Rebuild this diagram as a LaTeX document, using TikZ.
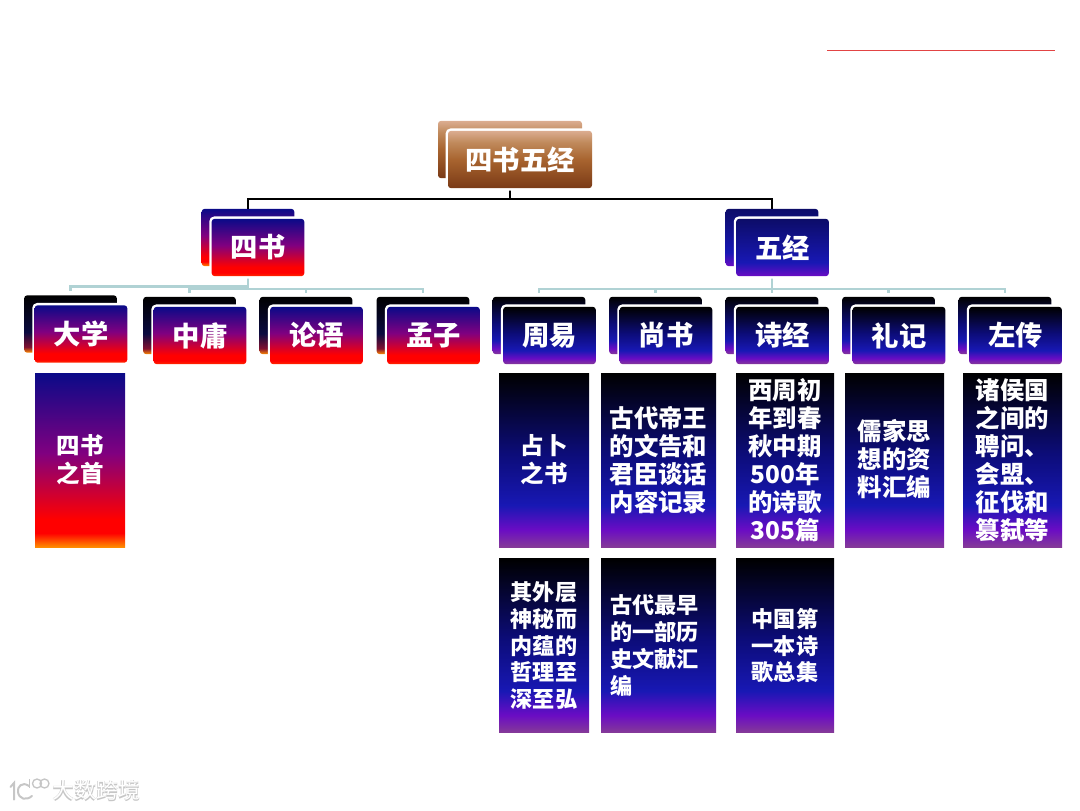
\documentclass[tikz,border=0pt]{standalone}
\usepackage{fontspec}
\setmainfont{Noto Sans CJK SC}
\definecolor{brB}{HTML}{7A3A16}
\definecolor{brM}{HTML}{A8642F}
\definecolor{brM2}{HTML}{C08A5C}
\definecolor{brT}{HTML}{DBAD90}
\definecolor{orG}{HTML}{FF8C00}
\definecolor{reO}{HTML}{FF2A00}
\definecolor{reD}{HTML}{FF0000}
\definecolor{puR}{HTML}{800080}
\definecolor{naV}{HTML}{0A0A88}
\definecolor{drK}{HTML}{801030}
\definecolor{bkN}{HTML}{0A0A40}
\definecolor{maV}{HTML}{853A98}
\definecolor{vlT}{HTML}{6A0CC4}
\definecolor{blU}{HTML}{1818B4}
\definecolor{nvD}{HTML}{0C0C78}
\definecolor{nvE}{HTML}{0C0C68}
\definecolor{tealline}{HTML}{B0D2D4}
\definecolor{redline}{HTML}{E24444}
\definecolor{wmgray}{HTML}{C6C6C6}
\pgfdeclareverticalshading{brownfill}{100bp}{color(0bp)=(brB); color(25bp)=(brB); color(50bp)=(brM); color(65bp)=(brM2); color(75bp)=(brT); color(100bp)=(brT)}
\pgfdeclareverticalshading{sunsetfill}{100bp}{color(0bp)=(orG); color(25bp)=(orG); color(29bp)=(reD); color(33bp)=(reD); color(52bp)=(puR); color(75bp)=(naV); color(100bp)=(naV)}
\pgfdeclareverticalshading{sunsetfront}{100bp}{color(0bp)=(reO); color(25bp)=(reO); color(28bp)=(reD); color(33bp)=(reD); color(52bp)=(puR); color(75bp)=(naV); color(100bp)=(naV)}
\pgfdeclareverticalshading{sunsetback}{100bp}{color(0bp)=(orG); color(25bp)=(orG); color(30bp)=(drK); color(43bp)=(bkN); color(75bp)=(black); color(100bp)=(black)}
\pgfdeclareverticalshading{midnightfill}{100bp}{color(0bp)=(maV); color(25bp)=(maV); color(30bp)=(vlT); color(37bp)=(blU); color(52bp)=(nvD); color(75bp)=(black); color(100bp)=(black)}
\pgfdeclareverticalshading{midnightnavy}{100bp}{color(0bp)=(vlT); color(25bp)=(vlT); color(37bp)=(blU); color(75bp)=(nvE); color(100bp)=(nvE)}
\tikzset{
  hdr/.style={rectangle,rounded corners=2.25pt,inner sep=0pt,minimum width=69.5pt,minimum height=43pt},
  topsize/.style={minimum width=108pt},
  front/.style={hdr,preaction={draw=white,line width=3.6pt},shade,text=white,font=\fontsize{20.5}{24}\selectfont\bfseries},
  tall/.style={rectangle,inner sep=0pt,minimum height=130.5pt,shade,text=white,align=center,font=\fontsize{18.3}{21}\selectfont\bfseries},
  tallmid/.style={font=\fontsize{17.6}{21}\selectfont\bfseries},
  tallsmall/.style={font=\fontsize{16.6}{20.2}\selectfont\bfseries},
  blackbus/.style={draw=black,line width=2.1pt},
  tealbus/.style={draw=tealline,line width=2.1pt,shorten >=3pt},
}
\begin{document}
\begin{tikzpicture}[x=0.75pt,y=-0.75pt]
\useasboundingbox (0,0) rectangle (1080,810);
% red rule
\coordinate (ruleL) at (827,50.8);
\coordinate (ruleR) at (1055,50.8);
\draw[redline,line width=0.9pt] (ruleL) -- (ruleR);
% back boxes
\node[hdr,topsize,shade,shading=brownfill] (rootB) at (510,149.5) {};
\node[hdr,shade,shading=sunsetfill] (ssB) at (248,237.5) {};
\node[hdr,shade,shading=midnightnavy] (wjB) at (772,237.5) {};
\node[hdr,shade,shading=sunsetback] (dxB) at (70.5,324) {};
\node[hdr,shade,shading=sunsetback] (zyB) at (189.5,325.5) {};
\node[hdr,shade,shading=sunsetback] (lyB) at (306,325.5) {};
\node[hdr,shade,shading=sunsetback] (mzB) at (423,325.5) {};
\node[hdr,shade,shading=midnightfill] (zhB) at (539,325.5) {};
\node[hdr,shade,shading=midnightfill] (shB) at (655.5,325.5) {};
\node[hdr,shade,shading=midnightfill] (sjB) at (772,325.5) {};
\node[hdr,shade,shading=midnightfill] (ljB) at (888.5,325.5) {};
\node[hdr,shade,shading=midnightfill] (zcB) at (1005,325.5) {};
% connectors
\coordinate (busTop) at (0,199);
\coordinate (busD) at (0,286.8);
\coordinate (busA) at (0,289);
\coordinate (busB) at (0,289);
\draw[blackbus] (rootB.south) -- (rootB.south |- busTop) -| (ssB.north);
\draw[blackbus] (rootB.south |- busTop) -| (wjB.north);
\draw[tealbus] (ssB.south) -- (ssB.south |- busD) -| (dxB.north);
\draw[tealbus] (ssB.south) -- (ssB.south |- busA) -| (zyB.north);
\draw[tealbus] (ssB.south |- busA) -| (lyB.north);
\draw[tealbus] (ssB.south |- busA) -| (mzB.north);
\draw[tealbus] (wjB.south) -- (sjB.north);
\draw[tealbus] (wjB.south |- busB) -| (zhB.north);
\draw[tealbus] (wjB.south |- busB) -| (shB.north);
\draw[tealbus] (wjB.south |- busB) -| (ljB.north);
\draw[tealbus] (wjB.south |- busB) -| (zcB.north);
% front boxes
\node[front,topsize,shading=brownfill] (root) at (520,159.5) {四书五经};
\node[front,shading=sunsetfront] (ss) at (258,247.5) {四书};
\node[front,shading=midnightnavy] (wj) at (782.5,247.5) {五经};
\node[front,shading=sunsetfront] (dx) at (81,334) {大学};
\node[front,shading=sunsetfront] (zy) at (200,335.5) {中庸};
\node[front,shading=sunsetfront] (ly) at (316.5,335.5) {论语};
\node[front,shading=sunsetfront] (mz) at (433.5,335.5) {孟子};
\node[front,shading=midnightfill] (zh) at (549.5,335.5) {周易};
\node[front,shading=midnightfill] (sh) at (666,335.5) {尚书};
\node[front,shading=midnightfill] (sj) at (782.5,335.5) {诗经};
\node[front,shading=midnightfill] (lj) at (899,335.5) {礼记};
\node[front,shading=midnightfill] (zc) at (1015.5,335.5) {左传};
% tall text panels
\node[tall,tallmid,shading=sunsetfill,minimum width=67.5pt] (t1) at (80,460) {四书\\之首};
\node[tall,tallmid,shading=midnightfill,minimum width=67.5pt] (t2) at (544,460) {占卜\\之书};
\node[tall,shading=midnightfill,minimum width=86.25pt] (t3) at (658.5,460) {古代帝王\\的文告和\\君臣谈话\\内容记录};
\node[tall,shading=midnightfill,minimum width=73.5pt] (t4) at (785,460) {西周初\\年到春\\秋中期\\500年\\的诗歌\\305篇};
\node[tall,shading=midnightfill,minimum width=74.25pt,align=none] (t5) at (894.5,460) {\raisebox{-3.7pt}[0pt][0pt]{\parbox{60pt}{\centering 儒家思\\想的资\\料汇编}}};
\node[tall,shading=midnightfill,minimum width=74.25pt] (t6) at (1012.5,460) {诸侯国\\之间的\\聘问、\\会盟、\\征伐和\\篡弑等};
\node[tall,tallsmall,shading=midnightfill,minimum width=67.5pt] (t7) at (544,645.5) {其外层\\神秘而\\内蕴的\\哲理至\\深至弘};
\node[tall,tallsmall,shading=midnightfill,minimum width=86.25pt,text width=72pt,align=left] (t8) at (658.5,645.5) {古代最早\\的一部历\\史文献汇\\编};
\node[tall,tallsmall,shading=midnightfill,minimum width=73.5pt] (t9) at (785,645.5) {中国第\\一本诗\\歌总集};
% watermark
\node[text=wmgray,inner sep=0pt,font=\fontsize{16.5}{20}\selectfont\bfseries] (wmS) at (96.5,791) {大数跨境};
\node[text=white,inner sep=0pt,font=\fontsize{16.5}{20}\selectfont] (wm) at (96,790.5) {大数跨境};
\draw[wmgray,line width=1.5pt,line cap=round] (10.5,787) -- (14,783) -- (14,799.5);
\draw[wmgray,line width=1.5pt,line cap=round] (29,786) .. controls (22,781) and (17,787) .. (18,792) .. controls (19,799) and (26,801) .. (32,796);
\draw[wmgray,line width=1pt] (29.5,779) -- (29.5,788);
\draw[wmgray,line width=1pt] (37,783.5) circle[radius=4.5];
\draw[wmgray,line width=1pt] (44.5,783.5) circle[radius=4.5];
\end{tikzpicture}
\end{document}
